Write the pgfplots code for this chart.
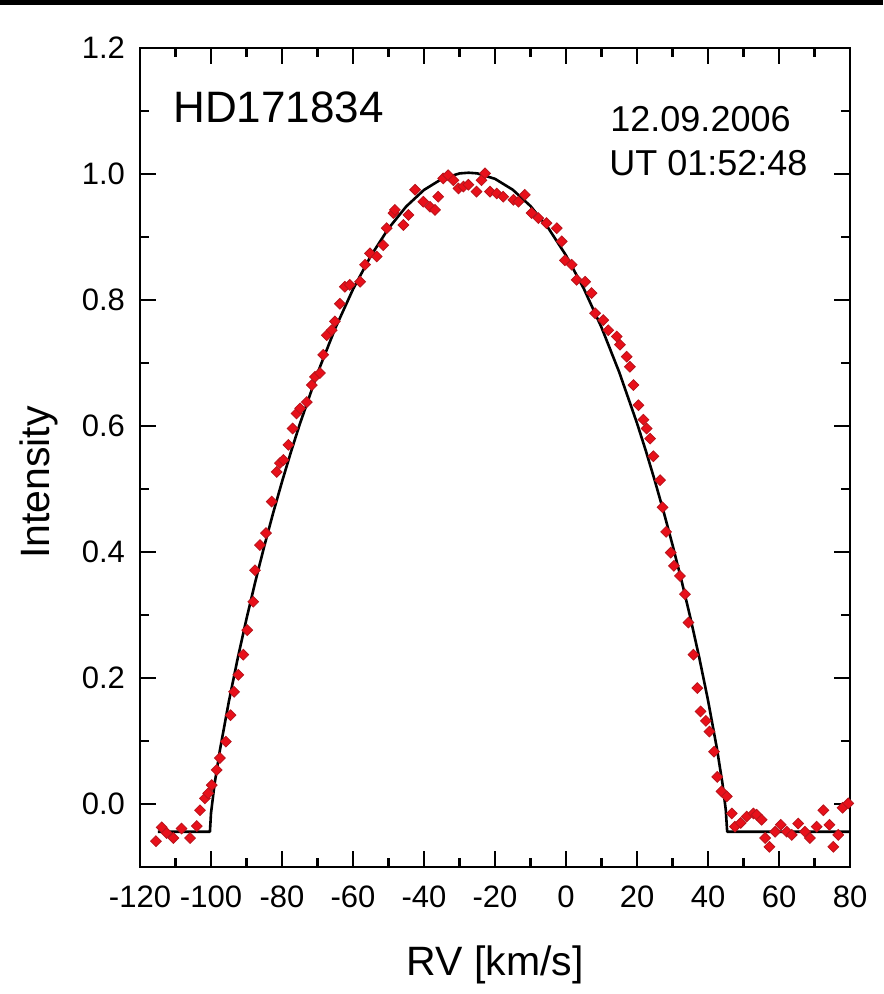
\documentclass[border=0pt]{standalone}
\usepackage{fontspec}
\setmainfont{Liberation Sans}
\usepackage{pgfplots}
\pgfplotsset{compat=1.18}
\definecolor{PtFill}{HTML}{E8101A}
\definecolor{PtDraw}{HTML}{B8141C}

\begin{document}
\begin{tikzpicture}
\useasboundingbox (-70pt,-63.5pt) rectangle (371.5pt,433.5pt);
\fill[black] (-70pt,431pt) rectangle (371.5pt,433.5pt);
\begin{axis}[
  at={(0,0)}, anchor=south west,
  scale only axis,
  width=355pt, height=409.5pt,
  xmin=-120, xmax=80,
  ymin=-0.1, ymax=1.2,
  xtick={-120,-100,-80,-60,-40,-20,0,20,40,60,80},
  xticklabels={-120,-100,-80,-60,-40,-20,0,20,40,60,80},
  ytick={0,0.2,0.4,0.6,0.8,1.0,1.2},
  yticklabels={0.0,0.2,0.4,0.6,0.8,1.0,1.2},
  minor x tick num=1,
  minor y tick num=1,
  tick align=inside,
  major tick length=8pt,
  minor tick length=4.5pt,
  axis line style={line width=1.4pt},
  every tick/.style={black,line width=1.3pt},
  tick label style={font=\fontsize{15.5}{18}\selectfont},
  xticklabel style={yshift=-6pt},
  yticklabel style={xshift=-4pt},
  xlabel={RV [km/s]},
  ylabel={Intensity},
  label style={font=\fontsize{20.5}{24}\selectfont},
  xlabel style={at={(axis description cs:0.5,0)}, anchor=base, yshift=-54pt},
  % rotated label: yshift moves it left, xshift moves it along the axis
  ylabel style={at={(axis description cs:0,0.5)}, anchor=base, yshift=45pt, xshift=-12.5pt},
]
% observed profile
\addplot[only marks, mark=square*, mark size=1.9pt,
  mark options={rotate=45, fill=PtFill, draw=PtDraw, line width=0.4pt}]
coordinates {
(-115.5,-0.059) (-113.9,-0.037) (-112.5,-0.046) (-110.6,-0.054) (-108.3,-0.039)
(-105.9,-0.054) (-104.0,-0.035) (-103.1,-0.010) (-101.7,0.009) (-100.8,0.017)
(-99.8,0.030) (-98.4,0.054) (-97.5,0.073) (-95.8,0.099) (-94.5,0.141)
(-93.5,0.178) (-92.3,0.205) (-90.9,0.237) (-89.8,0.276) (-88.1,0.321)
(-87.6,0.371) (-86.2,0.411) (-84.5,0.430) (-82.9,0.480) (-81.5,0.527)
(-80.6,0.541) (-79.6,0.546) (-78.2,0.570) (-77.0,0.596) (-75.9,0.620)
(-74.9,0.628) (-73.0,0.638) (-71.6,0.665) (-70.7,0.678) (-69.3,0.684)
(-68.4,0.713) (-67.4,0.744) (-66.0,0.752) (-65.1,0.766) (-63.7,0.794)
(-62.3,0.821) (-60.9,0.824) (-58.0,0.829) (-56.6,0.856) (-55.2,0.874)
(-53.3,0.869) (-51.5,0.887) (-50.5,0.914) (-48.6,0.938) (-48.2,0.943)
(-45.8,0.919) (-44.4,0.935) (-42.5,0.975) (-40.2,0.956) (-38.3,0.948)
(-36.9,0.943) (-36.0,0.964) (-34.6,0.993) (-33.2,0.998) (-31.7,0.990)
(-30.3,0.977) (-28.9,0.980) (-27.5,0.983) (-25.2,0.972) (-23.8,0.990)
(-22.8,1.001) (-21.4,0.972) (-19.5,0.969) (-17.7,0.964) (-14.8,0.959)
(-13.4,0.956) (-11.6,0.967) (-9.7,0.938) (-7.8,0.930) (-5.5,0.922)
(-2.6,0.914) (-1.2,0.893) (-0.3,0.863) (1.6,0.856) (3.0,0.832)
(5.4,0.829) (7.2,0.811) (8.2,0.779) (10.5,0.768) (11.9,0.752)
(14.3,0.742) (15.2,0.729) (17.1,0.710) (18.0,0.694) (19.0,0.665)
(20.4,0.633) (21.8,0.610) (22.7,0.596) (23.7,0.580) (24.6,0.552)
(26.5,0.514) (27.2,0.471) (28.2,0.432) (29.5,0.399) (30.4,0.378)
(32.1,0.362) (33.5,0.333) (34.5,0.288) (35.9,0.237) (37.0,0.184)
(37.9,0.147) (39.4,0.132) (40.4,0.115) (41.7,0.083) (42.6,0.043)
(43.8,0.020) (45.3,0.012) (46.7,-0.015) (47.6,-0.036) (49.2,-0.030)
(50.9,-0.020) (52.8,-0.015) (53.7,-0.017) (55.1,-0.025) (56.1,-0.054)
(57.3,-0.068) (58.9,-0.044) (60.5,-0.033) (62.2,-0.044) (63.6,-0.049)
(65.4,-0.031) (67.3,-0.044) (68.7,-0.054) (70.6,-0.036) (72.5,-0.010)
(74.2,-0.033) (75.3,-0.068) (76.7,-0.049) (77.9,-0.006) (79.5,0.001)
};
% fitted profile
\addplot[black, line width=1.3pt, line join=round] coordinates {
(-115,-0.044) (-100.3,-0.044) (-100,-0.0146) (-99,0.0316) (-97.5,0.0852)
(-95,0.1618) (-92.5,0.2305) (-90,0.2940) (-87.5,0.3533) (-85,0.4091)
(-82.5,0.4618) (-80,0.5115) (-77.5,0.5585) (-75,0.6028) (-70,0.6838)
(-65,0.7551) (-60,0.8170) (-55,0.8698) (-50,0.9136) (-45,0.9485)
(-40,0.9747) (-35,0.9921) (-30,1.0009) (-27.45,1.002) (-25,1.0010)
(-20,0.9923) (-15,0.9750) (-10,0.9491) (-5,0.9143) (0,0.8708)
(5,0.8182) (10,0.7565) (15,0.6853) (20,0.6045) (22.5,0.5604)
(25,0.5135) (27.5,0.4639) (30,0.4113) (32.5,0.3556) (35,0.2965)
(37.5,0.2333) (40,0.1647) (42.5,0.0884) (44.1,0.0316) (45,-0.0089)
(45.4,-0.044) (80,-0.044)
};
\node[anchor=base west, font=\fontsize{22}{26}\selectfont, inner sep=0pt]
  at (axis cs:-110.7,1.0825) {HD171834};
\node[anchor=base west, font=\fontsize{18}{21}\selectfont, inner sep=0pt]
  at (axis cs:12.4,1.0667) {12.09.2006};
\node[anchor=base west, font=\fontsize{18}{21}\selectfont, inner sep=0pt]
  at (axis cs:12.1,0.998) {UT 01:52:48};
\end{axis}
\end{tikzpicture}
\end{document}
